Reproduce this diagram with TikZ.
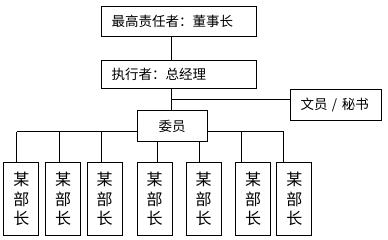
\documentclass[tikz,border=0pt]{standalone}
\usepackage{fontspec}
\newfontfamily\cjk{Noto Sans CJK SC}
\begin{document}
\begin{tikzpicture}[x=1pt,y=-1pt,line width=1pt,
  box/.style={draw,rectangle,inner sep=0pt,anchor=north west,align=center,font=\cjk\fontsize{13.5}{16}\selectfont},
  lbox/.style={box,inner xsep=10pt,align=left},
  dept/.style={box,minimum width=35pt,minimum height=72pt,font=\cjk\fontsize{16}{19.5}\selectfont},
  link/.style={draw,line width=1pt}]
\useasboundingbox (0,0) rectangle (388,240);
\node[lbox,text width=134.7pt,minimum height=30pt] (top) at (101,6) {最高责任者：董事长};
\node[lbox,text width=134.7pt,minimum height=28pt] (exec) at (101,60) {执行者：总经理};
\node[lbox,text width=71pt,minimum height=31pt] (clerk) at (290,89) {文员 / 秘书};
\node[box,minimum width=70pt,minimum height=31pt] (wy) at (136.7,110) {委员};
\node[dept] (b1) at (3.3,162.5) {某\\部\\长};
\node[dept] (b2) at (45,162.5) {某\\部\\长};
\node[dept] (b3) at (86.7,162.5) {某\\部\\长};
\node[dept] (b4) at (136.7,162.5) {某\\部\\长};
\node[dept] (b5) at (185.7,162.5) {某\\部\\长};
\node[dept] (b6) at (235,162.5) {某\\部\\长};
\node[dept] (b7) at (276.3,162.5) {某\\部\\长};
\coordinate (spine) at (171.3,100);
\coordinate (v1) at (16.7,132);
\coordinate (v2) at (59.3,132);
\coordinate (v3) at (101.7,132);
\coordinate (v4) at (157.3,132);
\coordinate (v5) at (199.3,132);
\coordinate (v6) at (241,132);
\coordinate (v7) at (283.7,132);
\draw[link] (spine |- top.south) -- (spine |- exec.north);
\draw[link] (spine |- exec.south) -- (spine |- wy.north);
\draw[link] (spine) -- (spine -| clerk.west);
\draw[link] (v1) -- (v1 -| wy.west);
\draw[link] (v7) -- (v7 -| wy.east);
\draw[link] (v1) -- (v1 |- b1.north);
\draw[link] (v2) -- (v2 |- b2.north);
\draw[link] (v3) -- (v3 |- b3.north);
\draw[link] (v4 |- wy.south) -- (v4 |- b4.north);
\draw[link] (v5 |- wy.south) -- (v5 |- b5.north);
\draw[link] (v6) -- (v6 |- b6.north);
\draw[link] (v7) -- (v7 |- b7.north);
\end{tikzpicture}
\end{document}
